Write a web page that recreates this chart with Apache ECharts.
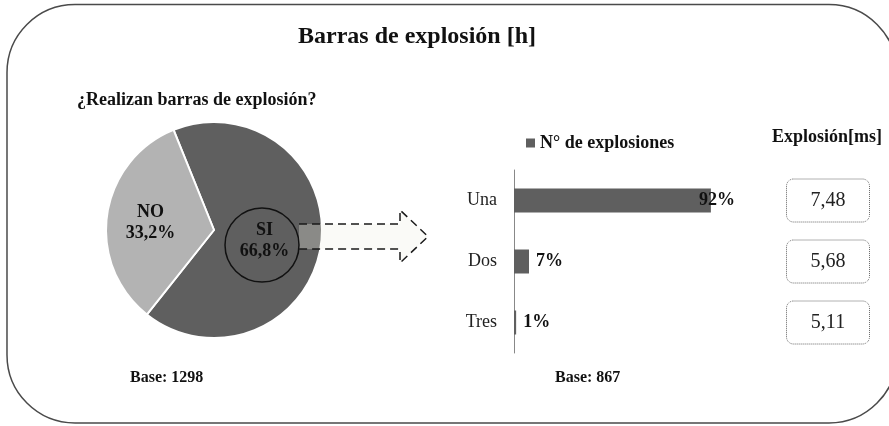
<!DOCTYPE html>
<html>
<head>
<meta charset="utf-8">
<script src="https://cdn.jsdelivr.net/npm/echarts@6/dist/echarts.min.js"></script>
<style>
    html, body { margin: 0; padding: 0; background: #fff; }
    #chart { width: 889px; height: 426px; }
</style>
</head>
<body>
<div id="chart"></div>
<script>
    // datos
    var pieNames = ['SI', 'NO'];
    var pieValues = [66.8, 33.2];
    var barCategories = ['Una', 'Dos', 'Tres'];
    var barValues = [92, 7, 1];
    var explosionMs = ['7,48', '5,68', '5,11'];
    var serieName = 'N° de explosiones';

    var serif = 'Liberation Serif';
    var dark = '#5f5f5f';
    var light = '#b3b3b3';

    var pieData = [];
    for (var i = 0; i < pieNames.length; i++) {
        pieData.push({
            name: pieNames[i],
            value: pieValues[i],
            itemStyle: { color: i === 0 ? dark : light }
        });
    }

    var barData = [];
    for (var j = 0; j < barValues.length; j++) {
        var item = { value: barValues[j] };
        // la etiqueta de la barra larga se monta sobre el final de la barra
        if (j === 0) {
            item.label = { offset: [-19, 0] };
        }
        barData.push(item);
    }

    function fmt(v) {
        return String(v).replace('.', ',') + '%';
    }

    var myChart = echarts.init(document.getElementById('chart'));
    myChart.setOption({
        animation: false,
        title: [{
            text: 'Barras de explosión [h]',
            left: 298,
            top: 25,
            padding: 0,
            textStyle: { fontFamily: serif, fontWeight: 'bold', fontSize: 24, color: '#111' }
        }, {
            text: '¿Realizan barras de explosión?',
            left: 77,
            top: 91,
            padding: 0,
            textStyle: { fontFamily: serif, fontWeight: 'bold', fontSize: 18, color: '#111' }
        }, {
            text: 'Explosión[ms]',
            left: 772,
            top: 128,
            padding: 0,
            textStyle: { fontFamily: serif, fontWeight: 'bold', fontSize: 18, color: '#111' }
        }, {
            text: 'Base: 1298',
            left: 130,
            top: 370,
            padding: 0,
            textStyle: { fontFamily: serif, fontWeight: 'bold', fontSize: 16, color: '#111' }
        }, {
            text: 'Base: 867',
            left: 555,
            top: 370,
            padding: 0,
            textStyle: { fontFamily: serif, fontWeight: 'bold', fontSize: 16, color: '#111' }
        }],
        legend: {
            data: [serieName],
            left: 526,
            top: 134,
            padding: 0,
            icon: 'rect',
            itemWidth: 9,
            itemHeight: 9,
            textStyle: { fontFamily: serif, fontWeight: 'bold', fontSize: 18, color: '#111' }
        },
        grid: {
            left: 514,
            top: 170,
            width: 214,
            height: 183
        },
        xAxis: {
            type: 'value',
            min: 0,
            max: 100,
            show: false
        },
        yAxis: [{
            type: 'category',
            data: barCategories,
            inverse: true,
            axisLine: { lineStyle: { color: '#888', width: 1 } },
            axisTick: { show: false },
            axisLabel: {
                margin: 17,
                fontFamily: serif,
                fontSize: 18,
                color: '#222'
            }
        }, {
            type: 'category',
            data: explosionMs,
            inverse: true,
            position: 'right',
            offset: 100,
            axisLine: { show: false },
            axisTick: { show: false },
            axisLabel: {
                margin: 0,
                align: 'center',
                width: 83,
                lineHeight: 19,
                padding: [12, 0, 12, 0],
                borderType: 'dotted',
                borderColor: '#666',
                borderWidth: 1,
                borderRadius: 7,
                fontFamily: serif,
                fontSize: 20,
                color: '#222'
            }
        }],
        series: [{
            type: 'pie',
            center: [214, 230],
            radius: 108,
            startAngle: 112,
            clockwise: true,
            data: pieData,
            itemStyle: { borderColor: '#fff', borderWidth: 2 },
            label: {
                position: 'inside',
                formatter: function(p) { return p.name + '\n' + fmt(p.value); },
                fontFamily: serif,
                fontWeight: 'bold',
                fontSize: 18,
                lineHeight: 21,
                color: '#111'
            },
            labelLayout: function(p) {
                return p.dataIndex === 0 ? { dx: -6, dy: 3 } : { dx: -7, dy: 1 };
            },
            labelLine: { show: false },
            emphasis: { disabled: true }
        }, {
            name: serieName,
            type: 'bar',
            data: barData,
            barWidth: 24,
            itemStyle: { color: dark },
            label: {
                show: true,
                position: 'right',
                distance: 7,
                formatter: function(p) { return fmt(p.value); },
                fontFamily: serif,
                fontWeight: 'bold',
                fontSize: 18,
                color: '#111'
            }
        }],
        graphic: [{
            type: 'rect',
            z: -10,
            shape: { x: 7, y: 4.5, width: 890, height: 418.5, r: 68 },
            style: { fill: null, stroke: '#4a4a4a', lineWidth: 1.5 }
        }, {
            // flecha: relleno
            type: 'polygon',
            z: 10,
            shape: {
                points: [[299, 224], [400, 224], [400, 210], [428, 236.5], [400, 263], [400, 249], [299, 249]]
            },
            style: { fill: 'rgba(240,240,228,0.3)', stroke: null }
        }, {
            // flecha: contorno discontinuo
            type: 'polyline',
            z: 11,
            shape: {
                points: [[299, 224], [400, 224], [400, 210], [428, 236.5], [400, 263], [400, 249], [299, 249]]
            },
            style: { fill: null, stroke: '#1a1a1a', lineWidth: 1.5, lineDash: [8, 5] }
        }, {
            type: 'circle',
            z: 11,
            shape: { cx: 262, cy: 245, r: 37 },
            style: { fill: null, stroke: '#111', lineWidth: 1.5 }
        }]
    });
</script>
</body>
</html>
